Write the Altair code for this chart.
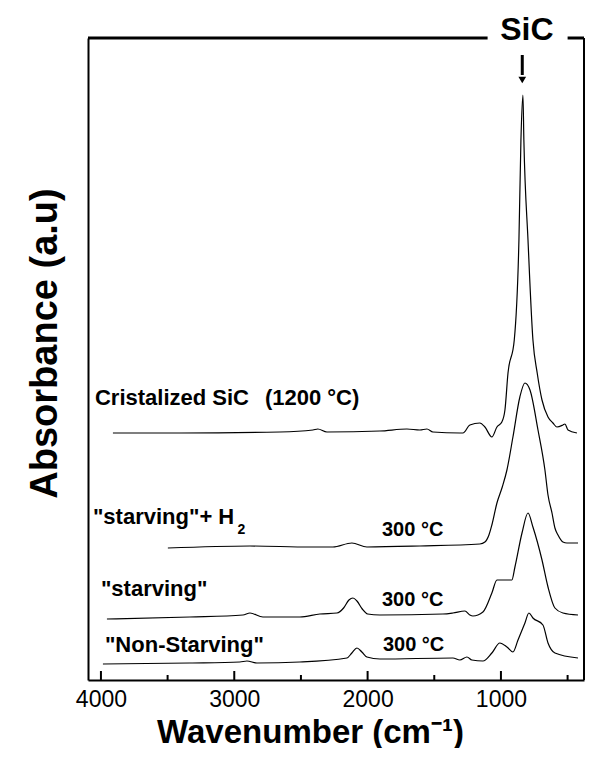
import altair as alt
import pandas as pd

FONT = "Liberation Sans, Arial, sans-serif"

# ---- spectra: wavenumber (cm-1) and absorbance (a.u., stacked offsets) ----
cris_wn = [3910, 3408, 2658, 2410, 2373, 2305, 1908, 1705, 1608, 1555, 1510, 1308, 1285, 1233, 1158, 1120, 1068, 1030, 993, 970,
           947, 900, 865, 850, 835, 828, 797, 760, 728, 692, 647, 610, 580, 535, 520, 497, 430]
cris_ab = [252, 252, 253, 255, 256, 253, 254, 256, 255, 256, 253, 252, 252, 260, 262, 258, 248, 258, 263, 275,
           312, 345, 445, 545, 590, 545, 445, 345, 312, 285, 268, 262, 258, 260, 261, 255, 252]

h2_wn = [3498, 2882, 2432, 2260, 2118, 2005, 1608, 1158, 1120, 1090, 1068, 1030, 990, 955, 910, 858, 820, 782, 722, 670,
         647, 617, 595, 572, 535, 505, 422]
h2_ab = [137, 139, 138, 138, 142, 138, 139, 141, 143, 150, 160, 182, 198, 215, 248, 288, 302, 295, 255, 215,
         190, 172, 157, 150, 143, 142, 142]

st_wn = [3955, 3333, 2935, 2882, 2785, 2508, 2358, 2230, 2180, 2140, 2110, 2080, 2040, 2000, 1908, 1435, 1360, 1270, 1233, 1210,
         1135, 1068, 1030, 918, 895, 842, 797, 760, 692, 647, 595, 535, 422]
st_ab = [66, 68, 70, 72, 68, 68, 71, 72, 77, 85, 87, 84, 76, 71, 70, 71, 72, 74, 70, 69,
         73, 92, 105, 105, 118, 152, 172, 158, 125, 98, 77, 72, 70]

ns_wn = [3985, 3333, 2958, 2905, 2830, 2508, 2155, 2118, 2080, 2043, 2005, 1908, 1360, 1308, 1255, 1218, 1135, 1068, 1008, 955,
         910, 872, 820, 790, 760, 685, 647, 595, 422]
ns_ab = [21, 22, 23, 24, 22, 23, 27, 32, 37, 33, 28, 26, 27, 25, 28, 25, 24, 32, 42, 38,
         33, 45, 62, 72, 67, 60, 42, 32, 27]

series_names = ["cristalized", "starving_h2", "starving", "non_starving"]

# ---- labels ----
main_labels = ["Cristalized SiC", "(1200 °C)", "\"starving\"+ H", "\"starving\"", "\"Non-Starving\""]
main_label_wn = [4045, 2770, 4060, 4000, 3970]
main_label_ab = [287, 287, 168, 96, 40]

temp_labels = ["300 °C", "300 °C", "300 °C"]
temp_label_wn = [1892, 1892, 1885]
temp_label_ab = [155, 85, 40]

sub_labels = ["2"]
sub_label_wn = [2975]
sub_label_ab = [155]

peak_label = ["SiC"]
peak_label_wn = [805]
peak_label_ab = [645]

arrow_wn = [840]
arrow_top = [630]
arrow_bottom = [610]
arrow_head = [605]

major_ticks = [1000, 2000, 3000, 4000]
minor_ticks = [500, 1500, 2500, 3500]

x_domain = [377, 4097]
y_domain = [5, 647]
frame_gap = [1100, 500]

PLOT_W, PLOT_H = 496, 642

# ---- build tables ----
rows = []
for name, wn, ab in zip(series_names, [cris_wn, h2_wn, st_wn, ns_wn], [cris_ab, h2_ab, st_ab, ns_ab]):
    for w, a in zip(wn, ab):
        rows.append({"series": name, "wn": w, "ab": a})
spectra = pd.DataFrame(rows)

xscale = alt.Scale(domain=x_domain, reverse=True, nice=False, zero=False)
yscale = alt.Scale(domain=y_domain, nice=False, zero=False)

x_axis = alt.Axis(values=major_ticks, format="d", ticks=False, grid=False,
                  domainColor="black", domainWidth=2,
                  labelFont=FONT, labelFontSize=23, labelColor="black", labelPadding=8,
                  title="Wavenumber (cm⁻¹)", titleFont=FONT, titleFontSize=33,
                  titleFontWeight="bold", titleColor="black",
                  titleX=222, titleY=62, titleAlign="center", titleBaseline="alphabetic")
y_axis = alt.Axis(labels=False, ticks=False, grid=False,
                  domainColor="black", domainWidth=2,
                  title="Absorbance (a.u)", titleFont=FONT, titleFontSize=38,
                  titleFontWeight="bold", titleColor="black",
                  titleX=-43, titleY=305, titleAngle=270,
                  titleAlign="center", titleBaseline="middle")


def X(field):
    return alt.X(field, scale=xscale, axis=x_axis)


def Y(field):
    return alt.Y(field, scale=yscale, axis=y_axis)


lines = alt.Chart(spectra).mark_line(color="black", strokeWidth=1.2, interpolate="monotone").encode(
    x=X("wn:Q"), y=Y("ab:Q"), detail="series:N",
)

major_df = pd.DataFrame({"wn": major_ticks})
minor_df = pd.DataFrame({"wn": minor_ticks})
major_rules = alt.Chart(major_df).mark_rule(color="black", strokeWidth=2).encode(
    x=X("wn:Q"), y=alt.value(PLOT_H), y2=alt.value(PLOT_H - 9))
minor_rules = alt.Chart(minor_df).mark_rule(color="black", strokeWidth=2).encode(
    x=X("wn:Q"), y=alt.value(PLOT_H), y2=alt.value(PLOT_H - 5))

# frame: right side and top with a gap for the SiC label
frame_df = pd.DataFrame({
    "wn": [x_domain[0], x_domain[1], frame_gap[1]],
    "wn2": [x_domain[0], frame_gap[0], x_domain[0]],
    "ab": [y_domain[0], y_domain[1], y_domain[1]],
    "ab2": [y_domain[1], y_domain[1], y_domain[1]],
    "w": [2, 3, 3],
})
frame = alt.Chart(frame_df).mark_rule(color="black").encode(
    x=X("wn:Q"), x2="wn2:Q", y=Y("ab:Q"), y2="ab2:Q",
    strokeWidth=alt.StrokeWidth("w:Q", scale=None),
)

main_df = pd.DataFrame({"t": main_labels, "wn": main_label_wn, "ab": main_label_ab})
main_text = alt.Chart(main_df).mark_text(font=FONT, fontSize=22, fontWeight="bold", align="left",
                                         baseline="middle", color="black").encode(
    x=X("wn:Q"), y=Y("ab:Q"), text="t:N")

temp_df = pd.DataFrame({"t": temp_labels, "wn": temp_label_wn, "ab": temp_label_ab})
temp_text = alt.Chart(temp_df).mark_text(font=FONT, fontSize=20, fontWeight="bold", align="left",
                                         baseline="middle", color="black").encode(
    x=X("wn:Q"), y=Y("ab:Q"), text="t:N")

sub_df = pd.DataFrame({"t": sub_labels, "wn": sub_label_wn, "ab": sub_label_ab})
sub_text = alt.Chart(sub_df).mark_text(font=FONT, fontSize=14, fontWeight="bold", align="left",
                                       baseline="middle", color="black").encode(
    x=X("wn:Q"), y=Y("ab:Q"), text="t:N")

peak_df = pd.DataFrame({"t": peak_label, "wn": peak_label_wn, "ab": peak_label_ab})
peak_text = alt.Chart(peak_df).mark_text(font=FONT, fontSize=32, fontWeight="bold", align="center",
                                         baseline="alphabetic", color="black").encode(
    x=X("wn:Q"), y=Y("ab:Q"), text="t:N")

arrow_df = pd.DataFrame({"wn": arrow_wn, "top": arrow_top, "bottom": arrow_bottom, "head": arrow_head})
arrow_shaft = alt.Chart(arrow_df).mark_rule(color="black", strokeWidth=3).encode(
    x=X("wn:Q"), y=Y("top:Q"), y2="bottom:Q")
arrow_tip = alt.Chart(arrow_df).mark_point(shape="triangle-down", filled=True, color="black",
                                           size=60, opacity=1).encode(
    x=X("wn:Q"), y=Y("head:Q"))

chart = alt.layer(
    lines, major_rules, minor_rules, frame, main_text, temp_text, sub_text, peak_text, arrow_shaft, arrow_tip
).properties(
    width=PLOT_W, height=PLOT_H,
    padding={"left": 80, "top": 30, "right": 1, "bottom": 68},
    autosize=alt.AutoSizeParams(type="none"),
    background="white",
).configure_view(stroke=None)

chart.save("out.html", embed_options={"renderer": "svg", "actions": False})
